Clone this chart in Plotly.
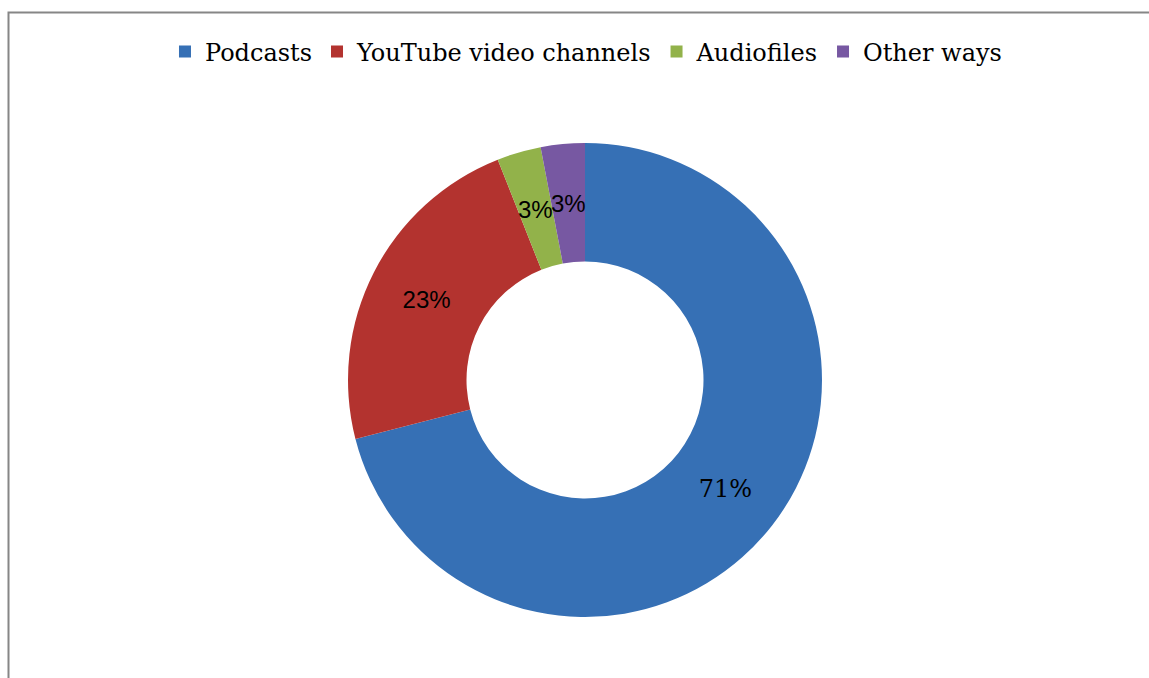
import math
import plotly.graph_objects as go

# Share of respondents by way of listening
categories = ["Podcasts", "YouTube video channels", "Audiofiles", "Other ways"]
shares = [71, 23, 3, 3]
colors = ["#3670B5", "#B3332F", "#92B24A", "#7758A2"]
label_fonts = ["DejaVu Serif", "Liberation Sans", "Liberation Sans", "Liberation Sans"]

W, H = 1149, 678
cx, cy, r = 585, 380, 237
hole = 0.5

# Thin slices get their label placed at mid-ring by annotation;
# wider slices use the trace's own inside text.
small = [v < 10 for v in shares]
positions = ["none" if s else "inside" for s in small]

fig = go.Figure(
    go.Pie(
        labels=categories,
        values=shares,
        hole=hole,
        sort=False,
        direction="clockwise",
        rotation=0,
        marker=dict(colors=colors, line=dict(width=0)),
        texttemplate="%{percent:.0%}",
        textposition=positions,
        insidetextorientation="horizontal",
        textfont=dict(family=label_fonts, size=24, color="black"),
        domain=dict(
            x=[(cx - r) / W, (cx + r) / W],
            y=[1 - (cy + r) / H, 1 - (cy - r) / H],
        ),
    )
)

total = sum(shares)
r_mid = r * (1 + hole) / 2
annotations = []
cum = 0
for name, v, s, fam in zip(categories, shares, small, label_fonts):
    mid = (cum + v / 2) / total * 2 * math.pi
    cum += v
    if not s:
        continue
    px = cx + r_mid * math.sin(mid)
    py = cy - r_mid * math.cos(mid)
    annotations.append(
        dict(
            x=px / W,
            y=1 - py / H,
            xref="paper",
            yref="paper",
            text=f"{round(v / total * 100)}%",
            showarrow=False,
            font=dict(family=fam, size=24, color="black"),
            xanchor="center",
            yanchor="middle",
        )
    )

fig.update_layout(
    width=W,
    height=H,
    margin=dict(l=0, r=0, t=0, b=0),
    paper_bgcolor="white",
    plot_bgcolor="white",
    annotations=annotations,
    legend=dict(
        orientation="h",
        x=0.51,
        xanchor="center",
        y=1 - 52 / H,
        yanchor="middle",
        font=dict(family="DejaVu Serif", size=24, color="black"),
        itemwidth=30,
    ),
    shapes=[
        dict(
            type="rect",
            xref="paper",
            yref="paper",
            x0=8.5 / W,
            x1=1.1,
            y0=-0.1,
            y1=1 - 12.5 / H,
            line=dict(color="#868686", width=2),
            fillcolor="rgba(0,0,0,0)",
            layer="below",
        )
    ],
)

fig.write_html("out.html")
